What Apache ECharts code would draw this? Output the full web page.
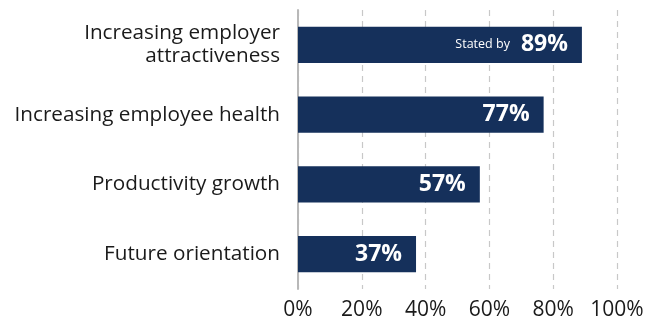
<!DOCTYPE html>
<html>
<head>
<meta charset="utf-8">
<script src="https://cdn.jsdelivr.net/npm/echarts@6/dist/echarts.min.js"></script>
<style>
  html, body { margin: 0; padding: 0; background: #fff; }
  #chart { width: 660px; height: 322px; }
</style>
</head>
<body>
<div id="chart"></div>
<script>
// Reasons stated, top to bottom
const categories = [
  'Increasing employer\nattractiveness',
  'Increasing employee health',
  'Productivity growth',
  'Future orientation'
];
const values = [89, 77, 57, 37];
const xTicks = [0, 20, 40, 60, 80, 100];

const FONT = '"Open Sans", sans-serif';
const chart = echarts.init(document.getElementById('chart'));

chart.setOption({
  animation: false,
  grid: { left: 298, right: 43, top: 10, bottom: 33, containLabel: false },
  xAxis: {
    type: 'value',
    min: xTicks[0],
    max: xTicks[xTicks.length - 1],
    interval: 20,
    axisLine: { show: false },
    axisTick: { show: false },
    axisLabel: {
      formatter: v => v + '%',
      fontFamily: FONT,
      fontSize: 21,
      color: '#1a1a1a',
      margin: 11
    },
    splitLine: {
      show: true,
      lineStyle: { type: [6, 5], color: '#c8c8c8', width: 1.2 }
    }
  },
  yAxis: {
    type: 'category',
    inverse: true,
    data: categories,
    axisLine: { show: true, lineStyle: { color: '#b8b8b8', width: 2 } },
    axisTick: { show: false },
    axisLabel: {
      fontFamily: FONT,
      fontSize: 20.7,
      lineHeight: 23,
      color: '#1a1a1a',
      align: 'right',
      margin: 18
    }
  },
  series: [{
    type: 'bar',
    data: values,
    barWidth: '52%',
    itemStyle: { color: '#15305b' },
    label: {
      show: true,
      position: 'insideRight',
      distance: 14,
      formatter: p => p.dataIndex === 0
        ? '{s|Stated by}{v|' + p.value + '%}'
        : '{v|' + p.value + '%}',
      rich: {
        s: { fontFamily: FONT, fontSize: 12.5, color: '#fff', fontWeight: 'normal', padding: [0, 11, 0, 0] },
        v: { fontFamily: FONT, fontSize: 23, color: '#fff', fontWeight: 'bold' }
      }
    }
  }]
});
</script>
</body>
</html>
